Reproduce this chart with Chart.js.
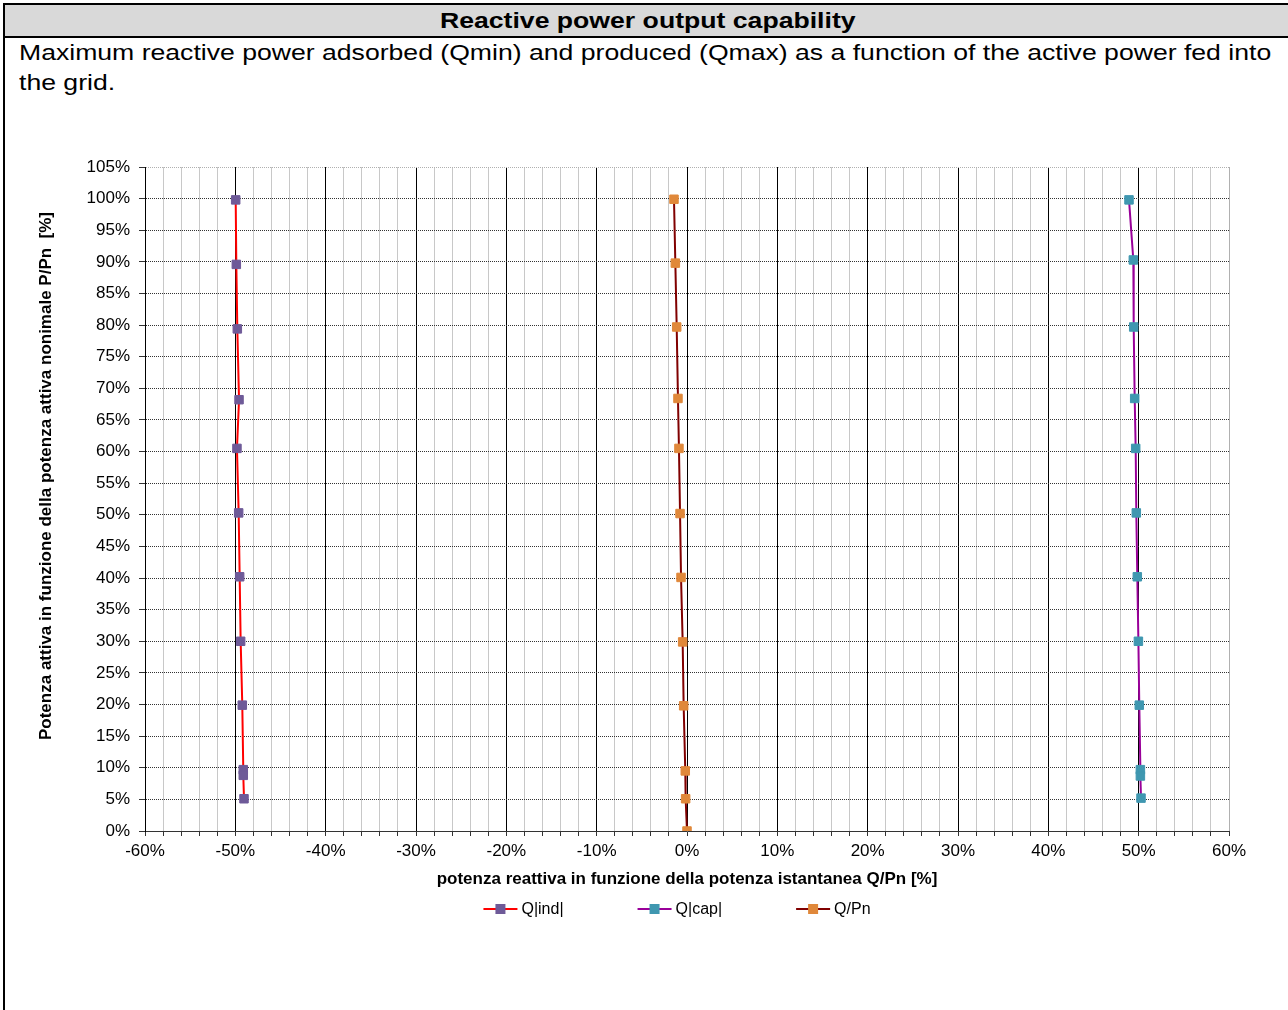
<!DOCTYPE html>
<html>
<head>
<meta charset="utf-8">
<title>Reactive power output capability</title>
<script src="https://cdn.jsdelivr.net/npm/chart.js@4.4.0/dist/chart.umd.min.js"></script>
<style>
  html, body { margin: 0; padding: 0; width: 1288px; height: 1010px; overflow: hidden; background: #fff;
    font-family: "Liberation Sans", Arial, sans-serif; color: #000; }
  .frame { position: absolute; left: 3px; top: 3px; width: 1286px; height: 1100px; border: 2px solid #000; }
  .head { height: 31px; line-height: 31px; background: #d9d9d9; border-bottom: 2px solid #000;
    text-align: center; font-weight: bold; font-size: 22px; }
  .head span { display: inline-block; transform: scaleX(1.21); transform-origin: center; }
  .desc { padding-left: 14px; font-size: 22px; line-height: 30px; }
  .desc span { display: inline-block; white-space: nowrap; transform: scaleX(1.209); transform-origin: left top; }
  .wrap { position: absolute; left: 0; top: 0; width: 1288px; height: 1010px; }
</style>
</head>
<body>
<div class="frame">
  <div class="head"><span>Reactive power output capability</span></div>
  <div class="desc"><span>Maximum reactive power adsorbed (Qmin) and produced (Qmax) as a function of the active power fed into<br>the grid.</span></div>
</div>
<div class="wrap"><canvas id="chart"></canvas></div>
<script>
// nomi delle serie
const seriesNames = ['Q|ind|', 'Q|cap|', 'Q/Pn'];

// Q|ind| : P/Pn [%] e Q/Pn [%]
const pInd = [99.8, 89.6, 79.4, 68.2, 60.5, 50.3, 40.2, 30.0, 19.9, 9.7, 8.8, 5.1];
const qInd = [-49.96, -49.89, -49.78, -49.59, -49.82, -49.63, -49.52, -49.41, -49.23, -49.12, -49.12, -49.04];

// Q|cap|
const pCap = [99.8, 90.3, 79.7, 68.4, 60.5, 50.3, 40.2, 30.0, 19.9, 9.7, 8.7, 5.2];
const qCap = [48.93, 49.41, 49.45, 49.56, 49.67, 49.74, 49.85, 49.97, 50.07, 50.19, 50.19, 50.26];

// Q/Pn
const pPn = [99.9, 89.8, 79.7, 68.4, 60.5, 50.2, 40.1, 29.9, 19.8, 9.5, 5.1, 0];
const qPn = [-1.44, -1.29, -1.14, -1.0, -0.89, -0.77, -0.66, -0.48, -0.37, -0.19, -0.15, 0];

// assi
const xMin = -60, xMax = 60, xStep = 2, xLabelStep = 10;
const yMin = 0, yMax = 105, yStep = 5;
const xTitle = 'potenza reattiva in funzione della potenza istantanea Q/Pn [%]';
const yTitle = 'Potenza attiva in funzione della potenza attiva nonimale P/Pn  [%]';

const FONT = '"Liberation Sans", Arial, sans-serif';

const toPoints = (xs, ys) => xs.map((x, i) => ({ x: x, y: ys[i] }));

const lineColors = ['#ff0000', '#990099', '#800000'];
const markerColors = ['#6e5a98', '#3f97b0', '#e0883a'];

const extras = {
    id: 'extras',
    afterDraw(chart) {
        const { ctx, chartArea } = chart;
        // titolo asse y
        ctx.save();
        ctx.font = 'bold 17px ' + FONT;
        ctx.fillStyle = '#000';
        ctx.textAlign = 'center';
        ctx.textBaseline = 'middle';
        ctx.translate(chartArea.left - 99, (chartArea.top + chartArea.bottom) / 2 - 23);
        ctx.rotate(-Math.PI / 2);
        ctx.fillText(yTitle, 0, 0);
        ctx.restore();

        // legenda
        ctx.save();
        ctx.font = '16px ' + FONT;
        const sym = 34, textGap = 4, gap = 74;
        const widths = seriesNames.map(n => sym + textGap + ctx.measureText(n).width);
        const total = widths.reduce((a, b) => a + b, 0) + gap * (seriesNames.length - 1);
        let x = (chartArea.left + chartArea.right) / 2 - 10 - total / 2;
        const y = chartArea.bottom + 78;
        seriesNames.forEach((name, i) => {
            ctx.strokeStyle = lineColors[i];
            ctx.lineWidth = 2;
            ctx.beginPath();
            ctx.moveTo(x, y);
            ctx.lineTo(x + sym, y);
            ctx.stroke();
            ctx.fillStyle = markerColors[i];
            ctx.fillRect(x + sym / 2 - 5, y - 5, 10, 10);
            ctx.fillStyle = '#000';
            ctx.textAlign = 'left';
            ctx.textBaseline = 'middle';
            ctx.fillText(name, x + sym + textGap, y + 1);
            x += widths[i] + gap;
        });
        ctx.restore();
    }
};

const makeSet = (i, xs, ys) => ({
    label: seriesNames[i],
    data: toPoints(xs, ys),
    borderColor: lineColors[i],
    borderWidth: 2,
    backgroundColor: markerColors[i],
    pointStyle: 'rect',
    pointRadius: 6,
    pointBorderWidth: 1,
    pointBorderColor: markerColors[i],
    pointBackgroundColor: markerColors[i],
    tension: 0,
    fill: false
});

const ctx = document.getElementById('chart');
new Chart(ctx, {
    type: 'line',
    data: {
        datasets: [
            makeSet(0, qInd, pInd),
            makeSet(1, qCap, pCap),
            makeSet(2, qPn, pPn)
        ]
    },
    options: {
        responsive: true,
        maintainAspectRatio: false,
        animation: false,
        devicePixelRatio: 1,
        layout: { padding: { left: 33, right: 59, top: 167, bottom: 117 } },
        plugins: { legend: { display: false }, tooltip: { enabled: false } },
        scales: {
            x: {
                type: 'linear',
                min: xMin, max: xMax,
                ticks: {
                    stepSize: xStep,
                    autoSkip: false,
                    maxRotation: 0,
                    padding: 5,
                    color: '#000',
                    font: { family: FONT, size: 17 },
                    callback: v => (Math.round(v) % xLabelStep === 0 ? Math.round(v) + '%' : '')
                },
                grid: {
                    color: c => {
                        const v = Math.round(c.tick.value);
                        if (v === xMax) return '#b0b0b0';
                        return v % xLabelStep === 0 ? '#000' : '#c8c8c8';
                    },
                    lineWidth: 1,
                    tickLength: 5,
                    tickColor: '#333'
                },
                border: { color: '#333', width: 1 },
                title: {
                    display: true,
                    text: xTitle,
                    color: '#000',
                    font: { family: FONT, size: 17, weight: 'bold' },
                    padding: { top: 4, bottom: 3 }
                },
                afterFit: s => {
                    s.height = 62;
                    s.paddingLeft = 0; s.paddingRight = 0; s.paddingTop = 0; s.paddingBottom = 0;
                }
            },
            y: {
                type: 'linear',
                min: yMin, max: yMax,
                ticks: {
                    stepSize: yStep,
                    padding: 9,
                    color: '#000',
                    font: { family: FONT, size: 17 },
                    callback: v => Math.round(v) + '%'
                },
                grid: {
                    color: c => (Math.round(c.tick.value) === yMax ? '#b0b0b0' : '#333'),
                    lineWidth: 1,
                    tickLength: 6,
                    tickColor: '#333'
                },
                border: { color: '#000', width: 1, dash: [1, 1] },
                afterFit: s => {
                    s.width = 112;
                    s.paddingLeft = 0; s.paddingRight = 0; s.paddingTop = 0; s.paddingBottom = 0;
                }
            }
        }
    },
    plugins: [extras]
});
</script>
</body>
</html>
